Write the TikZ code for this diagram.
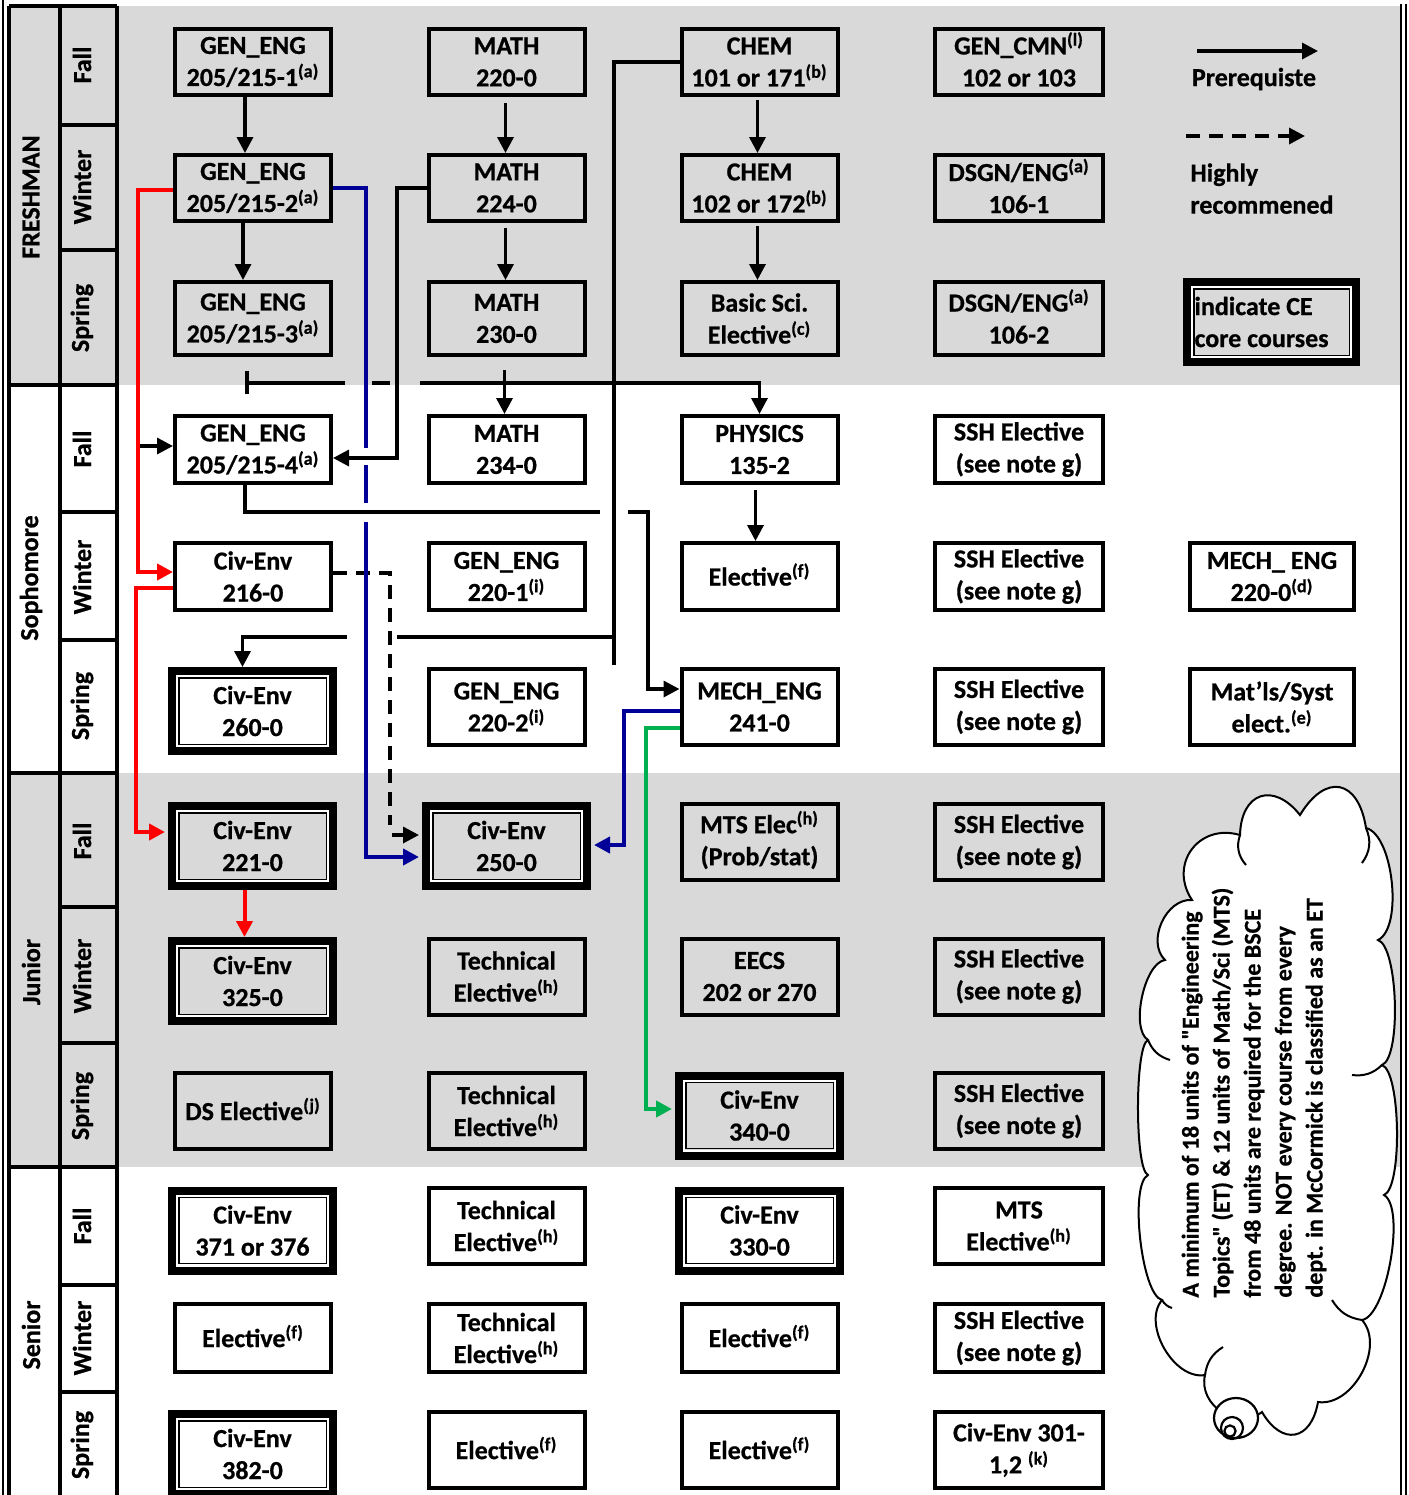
\documentclass[tikz,border=0pt]{standalone}
\usepackage{fontspec}
\setmainfont{Carlito}[BoldFeatures={FakeBold=0.7}]
\usetikzlibrary{arrows.meta,calc}
\definecolor{bandgray}{HTML}{D9D9D9}
\definecolor{cblue}{HTML}{000099}
\definecolor{cgreen}{HTML}{00B050}
\definecolor{cred}{HTML}{FF0000}
\newcommand{\ssup}[1]{\smash{\textsuperscript{#1}}}
\begin{document}
\begin{tikzpicture}[x=0.5pt,y=-0.5pt,
  txt/.style={font=\fontsize{13}{16}\selectfont\bfseries},
  box/.style={txt,draw,line width=2pt,minimum width=78pt,inner sep=0pt,align=center},
  wide/.style={minimum width=84pt},
  wider/.style={minimum width=82pt},
  hA/.style={minimum height=33pt},
  hB/.style={minimum height=33.5pt},
  hC/.style={minimum height=36.5pt},
  hD/.style={minimum height=38pt},
  hE/.style={minimum height=34pt},
  core/.style={txt,draw,line width=4pt,minimum width=80.5pt,minimum height=40pt,inner sep=0pt,align=center,
    path picture={
      \draw[white,line width=1pt] ([shift={(2.5pt,-2.5pt)}]path picture bounding box.north west) rectangle ([shift={(-2.5pt,2.5pt)}]path picture bounding box.south east);
      \draw[black,line width=0.7pt] ([shift={(3.4pt,-3.4pt)}]path picture bounding box.north west) rectangle ([shift={(-3.4pt,3.4pt)}]path picture bounding box.south east);
    }},
  lab/.style={txt,rotate=90,inner sep=0pt},
  conn/.style={line width=1.7pt},
  arr/.style={-{Triangle[length=8pt,width=8pt]}},
  colr/.style={line width=2pt},
  frame/.style={line width=1.6pt},
  dsh/.style={dash pattern=on 7pt off 4.5pt},
  puff/.style={line width=1pt}
]
\useasboundingbox (0,0) rectangle (1409,1495);
% bands
\fill[bandgray] (10,6) rectangle (1400,385);
\fill[bandgray] (10,773) rectangle (1400,1167);
% frame
\draw[line width=0.6pt] (3,0) -- (3,1495);
\draw[frame] (9,6) -- (9,1495);
\draw[frame] (60,6) -- (60,1495);
\draw[frame] (117,6) -- (117,1495);
\draw[line width=0.7pt] (1401,4) -- (1401,1495);
\draw[line width=0.7pt] (1406,4) -- (1406,1495);
\foreach \yy in {6,385,773,1167} \draw[frame] (9,\yy) -- (117,\yy);
\foreach \yy in {125,250,512,640,907,1043,1285,1392} \draw[frame] (60,\yy) -- (117,\yy);
% year and semester labels
\node[lab] (yF) at (31,197) {FRESHMAN};
\node[lab] (yS) at (31,578) {Sophomore};
\node[lab] (yJ) at (31,972) {Junior};
\node[lab] (yR) at (31,1335) {Senior};
\node[lab] (s1) at (82,65) {Fall};
\node[lab] (s2) at (82,187) {Winter};
\node[lab] (s3) at (82,318) {Spring};
\node[lab] (s4) at (82,449) {Fall};
\node[lab] (s5) at (82,577) {Winter};
\node[lab] (s6) at (82,706) {Spring};
\node[lab] (s7) at (82,841) {Fall};
\node[lab] (s8) at (82,976) {Winter};
\node[lab] (s9) at (82,1106) {Spring};
\node[lab] (s10) at (82,1226) {Fall};
\node[lab] (s11) at (82,1338) {Winter};
\node[lab] (s12) at (82,1445) {Spring};
% Freshman
\node[box,hA] (ge1) at (253,62) {GEN\_ENG\\205/215-1\ssup{(a)}};
\node[box,hA] (m220) at (506.5,62) {MATH\\220-0};
\node[box,hA] (ch101) at (759.5,62) {CHEM\\101 or 171\ssup{(b)}};
\node[box,wide,hA] (cmn) at (1019,62) {GEN\_CMN\ssup{(l)}\\102 or 103};
\node[box,hA] (ge2) at (253,188) {GEN\_ENG\\205/215-2\ssup{(a)}};
\node[box,hA] (m224) at (506.5,188) {MATH\\224-0};
\node[box,hA] (ch102) at (759.5,188) {CHEM\\102 or 172\ssup{(b)}};
\node[box,wide,hA] (dsgn1) at (1019,188) {DSGN/ENG\ssup{(a)}\\106-1};
\node[box,hC] (ge3) at (253,318.5) {GEN\_ENG\\205/215-3\ssup{(a)}};
\node[box,hC] (m230) at (506.5,318.5) {MATH\\230-0};
\node[box,hC] (bsci) at (759.5,318.5) {Basic Sci.\\Elective\ssup{(c)}};
\node[box,wide,hC] (dsgn2) at (1019,318.5) {DSGN/ENG\ssup{(a)}\\106-2};
% Sophomore
\node[box,hB] (ge4) at (253,449.5) {GEN\_ENG\\205/215-4\ssup{(a)}};
\node[box,hB] (m234) at (506.5,449.5) {MATH\\234-0};
\node[box,hB] (phys) at (759.5,449.5) {PHYSICS\\135-2};
\node[box,wide,hB] (ssh1) at (1019,449.5) {SSH Elective\\(see note g)};
\node[box,hB] (ce216) at (253,576.5) {Civ-Env\\216-0};
\node[box,hB] (ge2201) at (506.5,576.5) {GEN\_ENG\\220-1\ssup{(i)}};
\node[box,hB] (elf1) at (759.5,576.5) {Elective\ssup{(f)}};
\node[box,wide,hB] (ssh2) at (1019,576.5) {SSH Elective\\(see note g)};
\node[box,wider,hB] (me220) at (1272,576.5) {MECH\_ ENG\\220-0\ssup{(d)}};
\node[core] (ce260) at (252.5,711) {Civ-Env\\260-0};
\node[box,hD] (ge2202) at (506.5,707) {GEN\_ENG\\220-2\ssup{(i)}};
\node[box,hD] (me241) at (759.5,707) {MECH\_ENG\\241-0};
\node[box,wide,hD] (ssh3) at (1019,707) {SSH Elective\\(see note g)};
\node[box,wider,hD] (matls) at (1272,707) {Mat’ls/Syst\\elect.\ssup{(e)}};
% Junior
\node[core] (ce221) at (252.5,846) {Civ-Env\\221-0};
\node[core] (ce250) at (506.5,846) {Civ-Env\\250-0};
\node[box,hD] (mts1) at (759.5,842) {MTS Elec\ssup{(h)}\\(Prob/stat)};
\node[box,wide,hD] (ssh4) at (1019,842) {SSH Elective\\(see note g)};
\node[core] (ce325) at (252.5,981) {Civ-Env\\325-0};
\node[box,hD] (te1) at (506.5,976.5) {Technical\\Elective\ssup{(h)}};
\node[box,hD] (eecs) at (759.5,976.5) {EECS\\202 or 270};
\node[box,wide,hD] (ssh5) at (1019,976.5) {SSH Elective\\(see note g)};
\node[box,hD] (dse) at (253,1111) {DS Elective\ssup{(j)}};
\node[box,hD] (te2) at (506.5,1111) {Technical\\Elective\ssup{(h)}};
\node[core] (ce340) at (759.5,1115.5) {Civ-Env\\340-0};
\node[box,wide,hD] (ssh6) at (1019,1111) {SSH Elective\\(see note g)};
% Senior
\node[core] (ce371) at (252.5,1230.5) {Civ-Env\\371 or 376};
\node[box,hD] (te3) at (506.5,1226) {Technical\\Elective\ssup{(h)}};
\node[core] (ce330) at (759.5,1230.5) {Civ-Env\\330-0};
\node[box,wide,hD] (mtse) at (1019,1226) {MTS\\Elective\ssup{(h)}};
\node[box,hE] (el2) at (253,1338) {Elective\ssup{(f)}};
\node[box,hE] (te4) at (506.5,1338) {Technical\\Elective\ssup{(h)}};
\node[box,hE] (el3) at (759.5,1338) {Elective\ssup{(f)}};
\node[box,wide,hE] (ssh7) at (1019,1338) {SSH Elective\\(see note g)};
\node[core] (ce382) at (252.5,1454) {Civ-Env\\382-0};
\node[box,hD] (el4) at (506.5,1450) {Elective\ssup{(f)}};
\node[box,hD] (el5) at (759.5,1450) {Elective\ssup{(f)}};
\node[box,wide,hD] (ce301) at (1019,1450) {Civ-Env 301-\\1,2 \ssup{(k)}};
% legend
\coordinate (la1) at (1197,51); \coordinate (la2) at (1318,51);
\draw[conn,arr] (la1) -- (la2);
\node[txt] (lt1) at (1254,79) {Prerequiste};
\coordinate (lb1) at (1186,136); \coordinate (lb2) at (1305,136);
\draw[conn,arr,dsh] (lb1) -- (lb2);
\node[txt,align=left,anchor=north west,inner sep=0pt] (lt2) at (1190,163) {Highly\\recommened};
\node[core,minimum width=84.5pt,align=left] (lcore) at (1271.5,322) {indicate CE\phantom{xxx}\\core courses};
% straight prerequisites
\draw[conn,arr] ([xshift=-4pt]ge1.south) -- ([xshift=-4pt]ge2.north);
\draw[conn,arr] ([xshift=-5pt]ge2.south) -- ([xshift=-5pt]ge3.north);
\draw[conn,arr] ([shift={(-1,6)}]m220.south) -- ([xshift=-0.5pt]m224.north);
\draw[conn,arr] ([shift={(-1,5)}]m224.south) -- ([xshift=-0.5pt]m230.north);
\draw[conn,arr] ([shift={(-2,3)}]ch101.south) -- ([xshift=-1pt]ch102.north);
\draw[conn,arr] ([shift={(-2,3)}]ch102.south) -- ([xshift=-1pt]bsci.north);
\draw[conn,arr] ([shift={(-2,13)}]m230.south) -- ([xshift=-1pt]m234.north);
\draw[conn,arr] ([shift={(-4,5)}]phys.south) -- ([xshift=-2pt]elf1.north);
% GEN_ENG 205/215-3 -> PHYSICS (with hops)
\coordinate (t3) at ([shift={(-6,26)}]ge3.south);
\draw[conn] ([yshift=6pt]t3) -- ([yshift=-5.5pt]t3);
\draw[conn] (t3) -- ++(98,0);
\draw[conn] ([xshift=62.5pt]t3) -- ++(18,0);
\draw[conn,arr] ([xshift=86.5pt]t3) -| (phys.north);
% CHEM 101 -> Civ-Env 260-0
\draw[conn] (ch101.west) -| (614,665);
\draw[conn] (614,637) -- (397,637);
\draw[conn,arr] (347,637) -| ([xshift=-5pt]ce260.north);
% GEN_ENG 205/215-4 -> MECH_ENG 241-0
\draw[conn] ([xshift=-4pt]ge4.south) |- (600,512);
\draw[conn,arr] (628,512) -| (648,689) -- ([yshift=9pt]me241.west);
% MATH 224 -> GEN_ENG 205/215-4
\draw[conn,arr] (m224.west) -| (397,458) -- ([yshift=-4.25pt]ge4.east);
% short arrow into GEN_ENG 205/215-4
\draw[conn,arr] (140,446) -- ([yshift=1.75pt]ge4.west);
% dashed: Civ-Env 216 -> Civ-Env 250
\draw[conn,dsh] ([yshift=1.75pt]ce216.east) -| (390,825);
\draw[conn,arr,shorten >=1.5pt] (392,835) -- ([yshift=5.5pt]ce250.west);
% blue: GEN_ENG 205/215-2 -> Civ-Env 250
\draw[colr,cblue] (ge2.east) -| (366,448);
\draw[colr,cblue] (366,465) -- (366,503);
\draw[colr,cblue,arr,shorten >=1.5pt] (366,522) |- ([yshift=-5.5pt]ce250.west);
% blue: MECH_ENG 241 -> Civ-Env 250
\draw[colr,cblue,arr,shorten >=1.5pt] ([yshift=-2pt]me241.west) -| (624,845) -- ([yshift=0.5pt]ce250.east);
% green: MECH_ENG 241 -> Civ-Env 340
\draw[colr,cgreen,arr,shorten >=1.5pt] ([yshift=-10.5pt]me241.west) -| (646,1109) -- ([yshift=3.25pt]ce340.west);
% red chain
\draw[colr,cred,arr] ([yshift=-1pt]ge2.west) -| (138,572) -- ([yshift=2.25pt]ce216.west);
\draw[colr,cred,arr,shorten >=1.5pt] ([yshift=-5.75pt]ce216.west) -| (136,832) -- ([yshift=7pt]ce221.west);
\draw[colr,cred,arr] ([xshift=-4pt]ce221.south) -- ([xshift=-4pt]ce325.north);
% cloud
\coordinate (J1) at (1192,900);
\coordinate (J2) at (1240,835);
\coordinate (J3) at (1300,815);
\coordinate (J4) at (1366,828);
\coordinate (J5) at (1378,940);
\coordinate (J6) at (1382,1065);
\coordinate (J7) at (1384,1195);
\coordinate (J8) at (1362,1320);
\coordinate (J9) at (1318,1402);
\coordinate (J10) at (1262,1412);
\coordinate (J11) at (1205,1375);
\coordinate (J12) at (1162,1300);
\coordinate (J13) at (1148,1175);
\coordinate (J14) at (1148,1040);
\coordinate (J15) at (1165,960);
\draw[puff,fill=white] (J1)
  to[bend left=70,looseness=1.36] (J2)
  to[bend left=70,looseness=1.73] (J3)
  to[bend left=70,looseness=1.89] (J4)
  to[bend left=70,looseness=0.64] (J5)
  to[bend left=70,looseness=0.43] (J6)
  to[bend left=70,looseness=0.39] (J7)
  to[bend left=70,looseness=0.51] (J8)
  to[bend left=70,looseness=0.97] (J9)
  to[bend left=70,looseness=1.78] (J10)
  to[bend left=70,looseness=1.17] (J11)
  to[bend left=70,looseness=0.93] (J12)
  to[bend left=70,looseness=0.43] (J13)
  to[bend left=70,looseness=0.27] (J14)
  to[bend left=70,looseness=0.66] (J15)
  to[bend left=70,looseness=1.02] (J1) -- cycle;
% inner puff arcs
\draw[puff] (J2) to[bend right=30] ++(6,30);
\draw[puff] (J4) to[bend left=30] ++(-4,35);
\draw[puff] (J6) to[bend left=25] ++(-30,10);
\draw[puff] (J8) to[bend left=25] ++(-30,-20);
\draw[puff] (J11) to[bend left=25] ++(18,-28);
\draw[puff] (J12) to[bend right=20] ++(10,8);
\draw[puff] (J14) to[bend right=25] ++(22,20);
\draw[line width=1.1pt,fill=white] (1236,1418) ellipse (11pt and 10pt);
\draw[line width=1.1pt] (1232,1428) circle (5.5pt);
\draw[line width=1.1pt] (1230,1431) circle (2.8pt);
\node[lab,font=\fontsize{12}{15.5}\selectfont\bfseries,align=left,anchor=west] (note) at (1254,1298) {A minimum of 18 units of \textquotedbl Engineering\\Topics\textquotedbl{} (ET)  \& 12 units of Math/Sci (MTS)\\from 48 units are required for the BSCE\\degree.  NOT every course from every\\dept.  in McCormick is classified as an ET};
\end{tikzpicture}
\end{document}
